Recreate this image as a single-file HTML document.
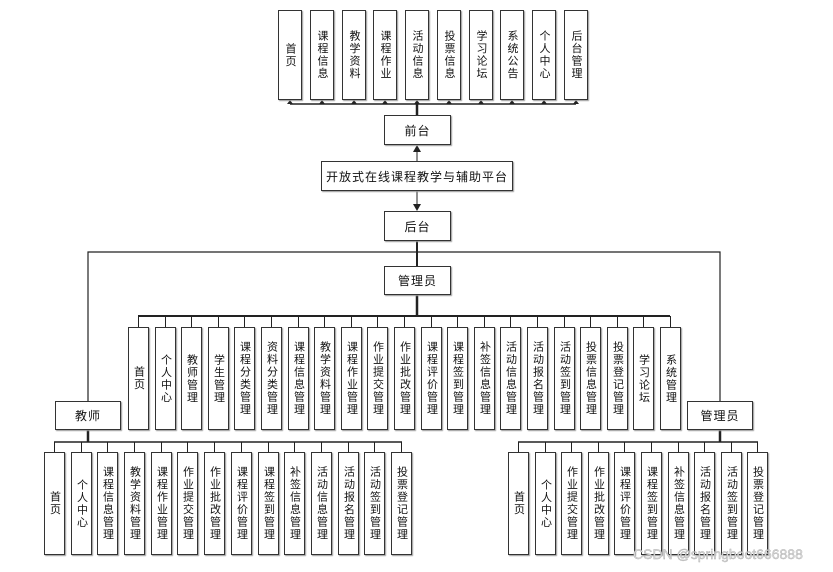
<!DOCTYPE html>
<html><head><meta charset="utf-8">
<style>
body{margin:0;background:#fff;}
#c{position:relative;width:833px;height:572px;overflow:hidden;background:#fff;font-family:"Liberation Sans","Noto Sans CJK SC",sans-serif;color:#111;}
.b{position:absolute;box-sizing:border-box;border:1px solid #333;background:#fff;box-shadow:1px 1px 1px #999;display:flex;align-items:center;justify-content:center;font-size:11px;}
.v{writing-mode:vertical-rl;text-orientation:upright;letter-spacing:1.5px;line-height:12px;}
.h{font-size:12px;letter-spacing:1px;}
.t{top:10px;width:24px;height:90px;}
.a{top:327px;width:21px;height:103px;}
.m{top:452px;width:21px;height:103px;}
svg{position:absolute;left:0;top:0;}
.wm{position:absolute;left:633px;top:546px;font-size:14px;color:#ddd;-webkit-text-stroke:0.4px #aaa;}
</style></head><body><div id="c">
<svg width="833" height="572">
<g stroke="#222" fill="none">
<line x1="290" y1="104" x2="576" y2="104" stroke-width="1.5"/>
<line x1="417" y1="104" x2="417" y2="115" stroke-width="2.5"/>
<g stroke-width="1">
<line x1="290" y1="100" x2="290" y2="104"/><line x1="322" y1="100" x2="322" y2="104"/><line x1="354" y1="100" x2="354" y2="104"/><line x1="385" y1="100" x2="385" y2="104"/><line x1="417" y1="100" x2="417" y2="104"/><line x1="449" y1="100" x2="449" y2="104"/><line x1="481" y1="100" x2="481" y2="104"/><line x1="512" y1="100" x2="512" y2="104"/><line x1="544" y1="100" x2="544" y2="104"/><line x1="576" y1="100" x2="576" y2="104"/>
</g>
<line x1="417" y1="161" x2="417" y2="150" stroke-width="1"/>
<line x1="417" y1="191" x2="417" y2="205" stroke-width="1"/>
<line x1="417" y1="241" x2="417" y2="266" stroke-width="2"/>
<polyline points="88,401 88,252 720,252 720,401" stroke-width="1.2"/>
<line x1="417" y1="295" x2="417" y2="316" stroke-width="2.5"/>
<line x1="138" y1="316" x2="670" y2="316" stroke-width="2"/>
<line x1="88" y1="430" x2="88" y2="442" stroke-width="2.5"/>
<line x1="54" y1="442" x2="402" y2="442" stroke-width="1.5"/>
<line x1="720" y1="430" x2="720" y2="442" stroke-width="2.5"/>
<line x1="518" y1="442" x2="758" y2="442" stroke-width="1.5"/>
<g stroke-width="1">
<path d="M138.5 316V327M165.5 316V327M191.5 316V327M218.5 316V327M244.5 316V327M271.5 316V327M298.5 316V327M324.5 316V327M351.5 316V327M377.5 316V327M404.5 316V327M431.5 316V327M457.5 316V327M484.5 316V327M510.5 316V327M537.5 316V327M564.5 316V327M590.5 316V327M617.5 316V327M643.5 316V327M670.5 316V327"/>
<path d="M54.5 442V452M81.5 442V452M107.5 442V452M134.5 442V452M161.5 442V452M187.5 442V452M214.5 442V452M241.5 442V452M268.5 442V452M294.5 442V452M321.5 442V452M348.5 442V452M374.5 442V452M401.5 442V452"/>
<path d="M518.5 442V452M545.5 442V452M571.5 442V452M598.5 442V452M624.5 442V452M651.5 442V452M678.5 442V452M704.5 442V452M731.5 442V452M757.5 442V452"/>
</g>
</g>
<g fill="#222">
<path d="M290 100l-3 4h6zM322 100l-3 4h6zM354 100l-3 4h6zM385 100l-3 4h6zM417 100l-3 4h6zM449 100l-3 4h6zM481 100l-3 4h6zM512 100l-3 4h6zM544 100l-3 4h6zM576 100l-3 4h6z"/>
<path d="M417 145l-4 7h8z"/>
<path d="M417 211l-4 -7h8z"/>
</g>
</svg>

<div class="b t" style="left:278px"><span class="v">首页</span></div>
<div class="b t" style="left:310px"><span class="v">课程信息</span></div>
<div class="b t" style="left:342px"><span class="v">教学资料</span></div>
<div class="b t" style="left:373px"><span class="v">课程作业</span></div>
<div class="b t" style="left:405px"><span class="v">活动信息</span></div>
<div class="b t" style="left:437px"><span class="v">投票信息</span></div>
<div class="b t" style="left:469px"><span class="v">学习论坛</span></div>
<div class="b t" style="left:500px"><span class="v">系统公告</span></div>
<div class="b t" style="left:532px"><span class="v">个人中心</span></div>
<div class="b t" style="left:564px"><span class="v">后台管理</span></div>

<div class="b h" style="left:384px;top:115px;width:67px;height:30px">前台</div>
<div class="b h" style="left:321px;top:161px;width:192px;height:30px">开放式在线课程教学与辅助平台</div>
<div class="b h" style="left:384px;top:211px;width:67px;height:30px">后台</div>
<div class="b h" style="left:384px;top:266px;width:67px;height:29px">管理员</div>
<div class="b h" style="left:55px;top:401px;width:66px;height:29px">教师</div>
<div class="b h" style="left:687px;top:401px;width:66px;height:29px">管理员</div>

<div class="b a" style="left:128px"><span class="v">首页</span></div>
<div class="b a" style="left:155px"><span class="v">个人中心</span></div>
<div class="b a" style="left:181px"><span class="v">教师管理</span></div>
<div class="b a" style="left:208px"><span class="v">学生管理</span></div>
<div class="b a" style="left:234px"><span class="v">课程分类管理</span></div>
<div class="b a" style="left:261px"><span class="v">资料分类管理</span></div>
<div class="b a" style="left:288px"><span class="v">课程信息管理</span></div>
<div class="b a" style="left:314px"><span class="v">教学资料管理</span></div>
<div class="b a" style="left:341px"><span class="v">课程作业管理</span></div>
<div class="b a" style="left:367px"><span class="v">作业提交管理</span></div>
<div class="b a" style="left:394px"><span class="v">作业批改管理</span></div>
<div class="b a" style="left:421px"><span class="v">课程评价管理</span></div>
<div class="b a" style="left:447px"><span class="v">课程签到管理</span></div>
<div class="b a" style="left:474px"><span class="v">补签信息管理</span></div>
<div class="b a" style="left:500px"><span class="v">活动信息管理</span></div>
<div class="b a" style="left:527px"><span class="v">活动报名管理</span></div>
<div class="b a" style="left:554px"><span class="v">活动签到管理</span></div>
<div class="b a" style="left:580px"><span class="v">投票信息管理</span></div>
<div class="b a" style="left:607px"><span class="v">投票登记管理</span></div>
<div class="b a" style="left:633px"><span class="v">学习论坛</span></div>
<div class="b a" style="left:660px"><span class="v">系统管理</span></div>

<div class="b m" style="left:44px"><span class="v">首页</span></div>
<div class="b m" style="left:71px"><span class="v">个人中心</span></div>
<div class="b m" style="left:97px"><span class="v">课程信息管理</span></div>
<div class="b m" style="left:124px"><span class="v">教学资料管理</span></div>
<div class="b m" style="left:151px"><span class="v">课程作业管理</span></div>
<div class="b m" style="left:177px"><span class="v">作业提交管理</span></div>
<div class="b m" style="left:204px"><span class="v">作业批改管理</span></div>
<div class="b m" style="left:231px"><span class="v">课程评价管理</span></div>
<div class="b m" style="left:258px"><span class="v">课程签到管理</span></div>
<div class="b m" style="left:284px"><span class="v">补签信息管理</span></div>
<div class="b m" style="left:311px"><span class="v">活动信息管理</span></div>
<div class="b m" style="left:338px"><span class="v">活动报名管理</span></div>
<div class="b m" style="left:364px"><span class="v">活动签到管理</span></div>
<div class="b m" style="left:391px"><span class="v">投票登记管理</span></div>

<div class="b m" style="left:508px"><span class="v">首页</span></div>
<div class="b m" style="left:535px"><span class="v">个人中心</span></div>
<div class="b m" style="left:561px"><span class="v">作业提交管理</span></div>
<div class="b m" style="left:588px"><span class="v">作业批改管理</span></div>
<div class="b m" style="left:614px"><span class="v">课程评价管理</span></div>
<div class="b m" style="left:641px"><span class="v">课程签到管理</span></div>
<div class="b m" style="left:668px"><span class="v">补签信息管理</span></div>
<div class="b m" style="left:694px"><span class="v">活动报名管理</span></div>
<div class="b m" style="left:721px"><span class="v">活动签到管理</span></div>
<div class="b m" style="left:747px"><span class="v">投票登记管理</span></div>

<div class="wm">CSDN @springboot666888</div>
</div></body></html>
